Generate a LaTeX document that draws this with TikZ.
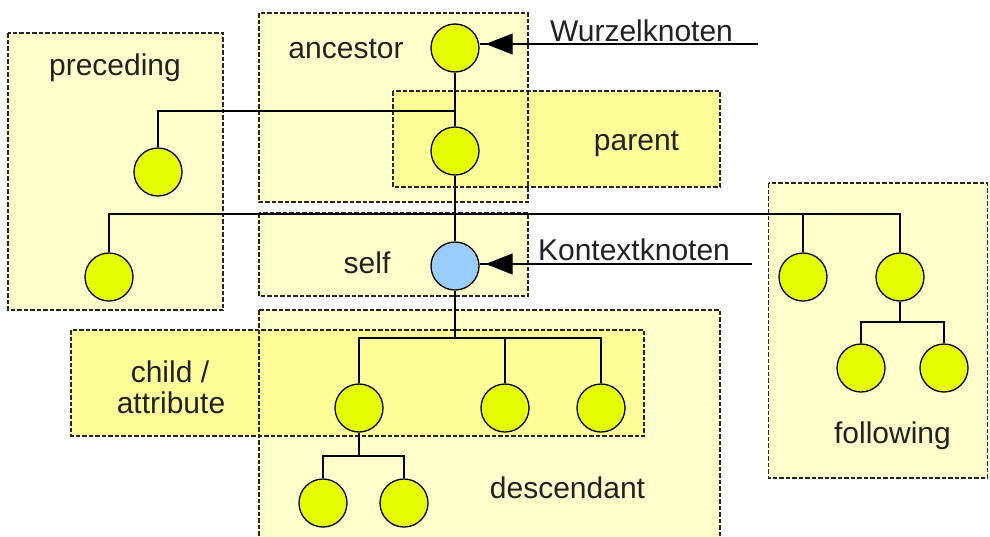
\documentclass[tikz,border=0pt]{standalone}
\usepackage{fontspec}
\setmainfont{Liberation Sans}
\usetikzlibrary{arrows.meta}
\definecolor{boxlight}{HTML}{FFFFCC}
\definecolor{boxdark}{HTML}{FFFF99}
\definecolor{nodeyellow}{HTML}{E5FF00}
\definecolor{nodeblue}{HTML}{99CCFF}
\definecolor{txt}{HTML}{222222}
\begin{document}
\begin{tikzpicture}[x=1pt,y=-1pt,
  area/.style={rectangle, draw=none, inner sep=0pt, outer sep=0pt},
  areaborder/.style={draw=black!85, line width=1.4pt, dash pattern=on 4.5pt off 2pt},
  treenode/.style={circle, draw=black, line width=1.3pt, fill=nodeyellow, minimum size=48pt, inner sep=0pt},
  ctxnode/.style={treenode, fill=nodeblue},
  link/.style={draw=black, line width=1.2pt},
  pointer/.style={draw=black, line width=1.2pt},
  pointertip/.style={draw=black, line width=1pt, -{Triangle[length=27pt,width=21pt]}, shorten >=6pt},
  lbl/.style={font=\fontsize{30}{34}\selectfont, text=txt, anchor=base, inner sep=0pt}
]
\useasboundingbox (0,0) rectangle (990,536);
\clip (0,0) rectangle (990,536);

% area fills
\node[area, fill=boxlight, minimum width=215pt, minimum height=277pt] (prec) at (115.5,171.5) {};
\node[area, fill=boxlight, minimum width=269pt, minimum height=189pt] (anc) at (393.5,107.5) {};
\node[area, fill=boxlight, minimum width=269pt, minimum height=83pt] (selfb) at (393.5,254.5) {};
\node[area, fill=boxlight, minimum width=461pt, minimum height=240pt] (desc) at (489.5,430) {};
\node[area, fill=boxlight, minimum width=219pt, minimum height=295pt] (fol) at (878,330.5) {};
\node[area, fill=boxdark, minimum width=327pt, minimum height=96pt] (par) at (556.5,139) {};
\node[area, fill=boxdark, minimum width=573pt, minimum height=106pt] (chat) at (357.5,383) {};

% area borders
\foreach \b in {prec,anc,selfb,desc,fol,par,chat}
  \draw[areaborder] (\b.north west) rectangle (\b.south east);

% tree nodes
\node[treenode] (root) at (455,48) {};
\node[treenode] (parent) at (455,151) {};
\node[treenode] (p1) at (158,172) {};
\node[treenode] (p2) at (109,277) {};
\node[ctxnode] (self) at (455,266) {};
\node[treenode] (f1) at (803,277) {};
\node[treenode] (f2) at (900,277) {};
\node[treenode] (f3) at (861,368) {};
\node[treenode] (f4) at (944,368) {};
\node[treenode] (c1) at (359,408) {};
\node[treenode] (c2) at (505,408) {};
\node[treenode] (c3) at (601,408) {};
\node[treenode] (g1) at (323,503) {};
\node[treenode] (g2) at (404,503) {};

% junctions
\coordinate (j1) at (455,111);
\coordinate (j2) at (455,214);
\coordinate (j3) at (455,338);
\coordinate (j4) at (359,456);
\coordinate (j5) at (900,322);

% connectors
\draw[link] (root) -- (parent);
\draw[link] (p1) |- (j1);
\draw[link] (parent) -- (self);
\draw[link] (p2) |- (j2);
\draw[link] (f1) |- (j2);
\draw[link] (f2) |- (j2);
\draw[link] (self) -- (j3);
\draw[link] (c1) |- (j3);
\draw[link] (c2) |- (j3);
\draw[link] (c3) |- (j3);
\draw[link] (c1) -- (j4);
\draw[link] (g1) |- (j4);
\draw[link] (g2) |- (j4);
\draw[link] (f2) -- (j5);
\draw[link] (f3) |- (j5);
\draw[link] (f4) |- (j5);

% pointers
\coordinate (wz) at (758,44);
\coordinate (kx) at (752,264);
\draw[pointer] (wz) -- (root.east |- wz);
\draw[pointertip] (wz) -- (root.east |- wz);
\draw[pointer] (kx) -- (self.east |- kx);
\draw[pointertip] (kx) -- (self.east |- kx);

% labels
\node[lbl] (lprec) at (115,75) {preceding};
\node[lbl] (lanc) at (346,58) {ancestor};
\node[lbl] (lpar) at (636.5,150) {parent};
\node[lbl] (lself) at (367,273) {self};
\node[lbl] (lchild) at (170,382) {child /};
\node[lbl] (lattr) at (171,413) {attribute};
\node[lbl] (ldesc) at (567.5,498) {descendant};
\node[lbl] (lfol) at (892.5,443) {following};
\node[lbl] (lwz) at (641.5,41) {Wurzelknoten};
\node[lbl] (lkx) at (634,260) {Kontextknoten};
\end{tikzpicture}
\end{document}
